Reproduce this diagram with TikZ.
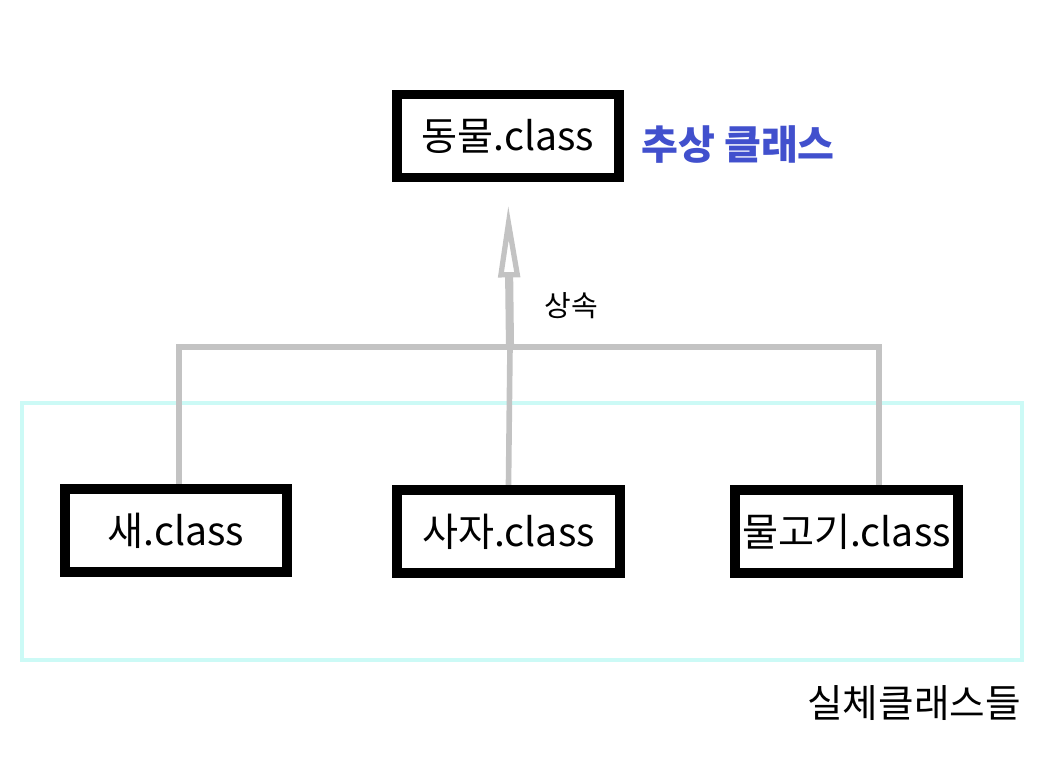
\documentclass[tikz,border=0pt]{standalone}
\usepackage{fontspec}
\setmainfont{Noto Sans CJK KR}
\usetikzlibrary{
    arrows.meta,
    positioning,
    backgrounds
}
\definecolor{linegray}{RGB}{195,195,195}
\definecolor{groupcyan}{RGB}{204,250,246}
\definecolor{labelblue}{RGB}{65,80,205}

\begin{document}
\begin{tikzpicture}[
        cls/.style={draw, line width=5.6pt, minimum width=4.45cm, minimum height=1.66cm,
                    inner sep=0pt, font=\fontsize{22.3}{26}\selectfont},
        group/.style={draw=groupcyan, line width=2.8pt, minimum width=20cm, minimum height=5.14cm},
        conn/.style={draw=linegray, line width=3.2pt, line cap=round},
        inherit/.style={draw=linegray, line width=4.6pt,
                        -{Triangle[open, length=1.45cm, width=0.42cm, line width=3pt]}},
    ]
        \useasboundingbox (0,0) rectangle (20.74,15.2);

        % Abstract class
        \node[cls] (animal) at (10.16, 12.48) {동물.class};
        \node[font=\fontsize{22.8}{27}\selectfont\bfseries, text=labelblue] (abstract) at (14.76, 12.3) {추상 클래스};

        % Concrete classes
        \node[cls] (bird) at (3.52, 4.59) {새.class};
        \node[cls] (lion) at (10.17, 4.57) {사자.class};
        \node[cls] (fish) at (16.93, 4.57) {물고기.class};
        \node[font=\fontsize{22}{26}\selectfont] (concrete) at (18.28, 1.14) {실체클래스들};

        % Group frame and inheritance lines
        \begin{scope}[on background layer]
            \node[group] (classes) at (10.44, 4.57) {};
            \coordinate (join) at (10.2, 8.26);
            \draw[conn] ([xshift=0.06cm]bird.north) |- (join);
            \draw[conn] ([xshift=0.65cm]fish.north) |- (join);
            \draw[conn] (lion.north) -- (join);
            \draw[inherit, shorten >=0.45cm] (join) -- (animal.south);
        \end{scope}
        \node[font=\fontsize{16.5}{20}\selectfont] (inheritlabel) at (11.42, 9.08) {상속};
    \end{tikzpicture}
\end{document}
